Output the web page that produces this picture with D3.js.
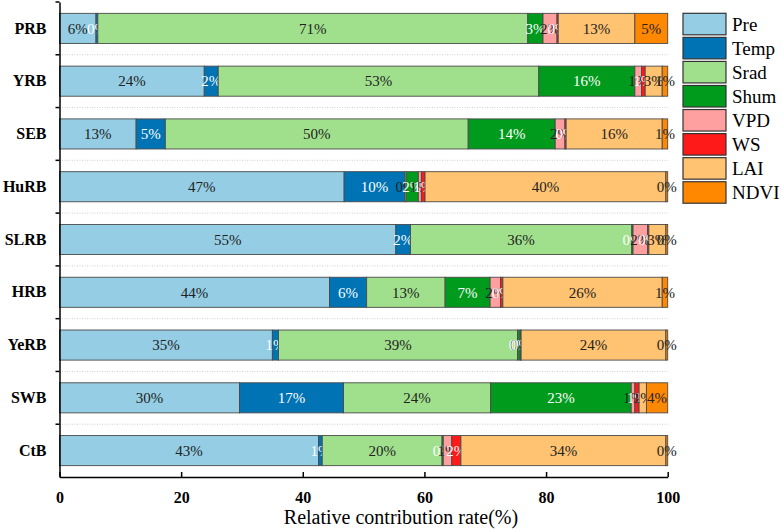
<!DOCTYPE html>
<html>
<head>
<meta charset="utf-8">
<script src="https://cdn.jsdelivr.net/npm/d3@7"></script>
<style>
  body { margin: 0; background: #fff; }
  svg, svg text { font-family: "Liberation Serif", "Times New Roman", serif !important; }
</style>
</head>
<body>
<svg id="chart" width="782" height="529"></svg>
<script>
// basins, top to bottom
const basins = ["PRB", "YRB", "SEB", "HuRB", "SLRB", "HRB", "YeRB", "SWB", "CtB"]
const factors = ["Pre", "Temp", "Srad", "Shum", "VPD", "WS", "LAI", "NDVI"]
const colors = ['#94cde4', '#0073b4', '#a0e08c', '#009a1c', '#ffa0a0', '#ff1a1a', '#ffc371', '#ff8800']
const textColors = ['#222', '#fff', '#222', '#fff', '#222', '#fff', '#222', '#222']

// relative contribution (%) per factor, in basin order
const pre  = [6.0, 23.8, 12.6, 46.8, 55.3, 44.4, 35.0, 29.6, 42.6]
const temp = [0.3, 2.3, 4.8, 10.0, 2.4, 6.1, 1.0, 17.1, 0.6]
const srad = [70.7, 52.7, 49.8, 0.2, 36.4, 12.9, 39.3, 24.2, 19.7]
const shum = [2.5, 15.8, 14.3, 2.0, 0.2, 7.4, 0.4, 23.1, 0.2]
const vpd  = [2.3, 1.1, 1.6, 0.5, 2.4, 1.7, 0.1, 0.6, 1.4]
const ws   = [0.2, 0.6, 0.2, 0.6, 0.2, 0.4, 0.1, 0.7, 1.5]
const lai  = [12.6, 2.8, 15.8, 39.6, 2.8, 26.2, 23.8, 1.2, 33.7]
const ndvi = [5.4, 0.9, 0.9, 0.3, 0.3, 0.9, 0.3, 3.5, 0.3]

const xTicks = [0, 20, 40, 60, 80, 100]

const series = [pre, temp, srad, shum, vpd, ws, lai, ndvi]
const table = basins.map((b, i) => {
    const row = { basin: b }
    factors.forEach((f, j) => { row[f] = series[j][i] })
    return row
})
const stacked = d3.stack().keys(factors)(table)

const chart = d3.select('#chart')

const x = d3.scaleLinear().domain([0, 100]).range([59.5, 667.7])
const y = d3.scaleBand().domain(basins).range([2, 477])
    .paddingInner(0.43).paddingOuter(0.215)
const step = y.step()
const boundary = i => y.range()[0] + i * step

// dotted separators between basins
chart.append('g')
    .selectAll('line')
    .data(d3.range(1, basins.length))
    .enter()
    .append('line')
    .attr('x1', x(0))
    .attr('x2', x(100))
    .attr('y1', d => boundary(d))
    .attr('y2', d => boundary(d))
    .attr('stroke', '#cfcfcf')
    .attr('stroke-width', 1)
    .attr('stroke-dasharray', '1,1.5')

// Draw the bars
const layers = chart.append('g')
    .selectAll('g')
    .data(stacked)
    .enter()
    .append('g')
    .attr('fill', (d, i) => colors[i])

layers.selectAll('rect')
    .data(d => d)
    .enter()
    .append('rect')
    .attr('x', d => x(d[0]))
    .attr('y', d => y(d.data.basin))
    .attr('width', d => x(d[1]) - x(d[0]))
    .attr('height', y.bandwidth())
    .attr('stroke', '#4a4a4a')
    .attr('stroke-width', 0.9)

// Draw the labels
layers.selectAll('text')
    .data(d => d)
    .enter()
    .append('text')
    .text(d => Math.round(d[1] - d[0]) + '%')
    .attr('x', d => (x(d[0]) + x(d[1])) / 2)
    .attr('y', d => y(d.data.basin) + y.bandwidth() / 2)
    .attr('dy', '0.35em')
    .attr('text-anchor', 'middle')
    .attr('font-size', 15)
    .attr('fill', function () { return textColors[stacked.indexOf(d3.select(this.parentNode).datum())] })

// x axis
const xAxis = d3.axisBottom(x)
    .tickValues(xTicks)
    .tickSizeInner(-5)
    .tickSizeOuter(0)
    .tickPadding(15)

const gx = chart.append('g')
    .attr('transform', 'translate(0, 477)')
    .call(xAxis)
gx.select('.domain').attr('stroke', '#000').attr('stroke-width', 1.5)
gx.selectAll('.tick line').attr('stroke', '#000').attr('stroke-width', 1.5)
gx.selectAll('text')
    .attr('font-size', 16)
    .attr('font-weight', 'bold')
    .attr('fill', '#000')

// y axis
const yAxis = d3.axisLeft(y).tickSize(0).tickPadding(13)
const gy = chart.append('g')
    .attr('transform', 'translate(59.5, 0)')
    .call(yAxis)
gy.select('.domain').attr('stroke', '#000').attr('stroke-width', 1.5)
gy.selectAll('text')
    .attr('font-size', 16)
    .attr('font-weight', 'bold')
    .attr('fill', '#000')

// y ticks sit on basin boundaries
gy.selectAll('.bound')
    .data(d3.range(0, basins.length))
    .enter()
    .append('line')
    .attr('class', 'bound')
    .attr('x1', -4)
    .attr('x2', 0)
    .attr('y1', d => boundary(d))
    .attr('y2', d => boundary(d))
    .attr('stroke', '#000')
    .attr('stroke-width', 1.5)

// axis title
chart.append('text')
    .text('Relative contribution rate(%)')
    .attr('x', 401)
    .attr('y', 524)
    .attr('text-anchor', 'middle')
    .attr('font-size', 20)
    .attr('fill', '#000')

// legend
const legend = chart.append('g')
    .selectAll('g')
    .data(factors)
    .enter()
    .append('g')
    .attr('transform', (d, i) => `translate(683, ${13.3 + i * 24.06})`)

legend.append('rect')
    .attr('width', 43)
    .attr('height', 21.5)
    .attr('fill', (d, i) => colors[i])
    .attr('stroke', '#333')
    .attr('stroke-width', 1.2)

legend.append('text')
    .text(d => d)
    .attr('x', 49)
    .attr('y', 11)
    .attr('dy', '0.35em')
    .attr('font-size', 19)
    .attr('fill', '#000')
</script>
</body>
</html>
